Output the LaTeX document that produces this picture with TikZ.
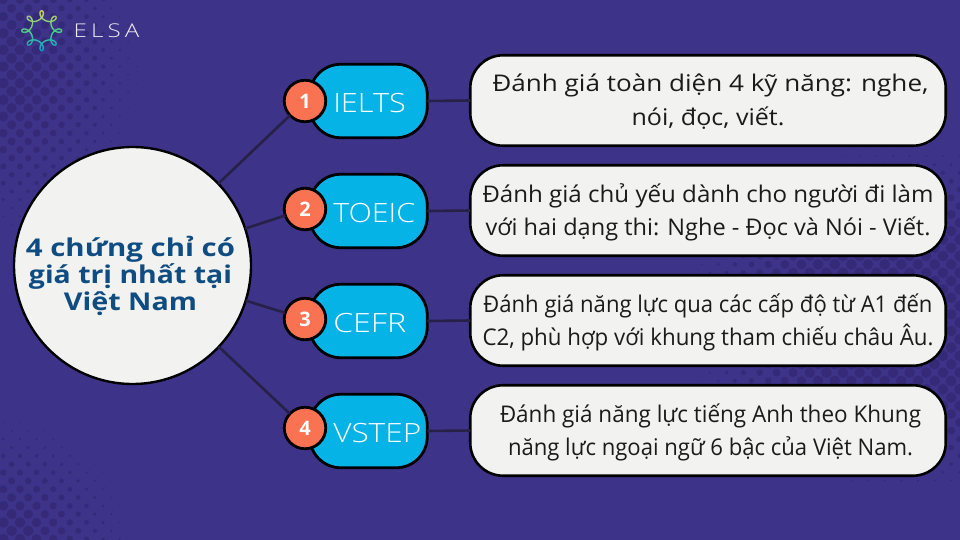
\documentclass[tikz,border=0pt]{standalone}
\usepackage{graphicx}
\usepackage{fontspec}
\setmainfont{Open Sans}
\newfontfamily\lightfont{Open Sans Light}
\definecolor{bgc}{HTML}{3D3389}
\definecolor{dotc}{HTML}{352A78}
\definecolor{paper}{HTML}{F2F2F0}
\definecolor{cyanc}{HTML}{05B3E6}
\definecolor{orangec}{HTML}{F97252}
\definecolor{titlec}{HTML}{0F4C81}
\definecolor{linkc}{HTML}{272148}
\definecolor{inkc}{HTML}{1B1B1B}
\definecolor{logoy}{HTML}{DDD860}
\definecolor{logog}{HTML}{4FD38A}
\definecolor{logob}{HTML}{0FA5CC}
\tikzset{
  bigdisc/.style={circle,draw=black,fill=paper,line width=2.4pt,minimum size=237pt,inner sep=0pt,outer sep=0pt,text=titlec},
  pillbox/.style={rectangle,rounded corners=31pt,draw=black,fill=cyanc,line width=2.8pt,minimum width=117.5pt,minimum height=73.5pt,inner sep=0pt,outer sep=0pt,text=white},
  badge/.style={circle,draw=black,fill=orangec,line width=2.8pt,minimum size=41.5pt,inner sep=0pt,outer sep=0pt,text=white},
  infobox/.style={rectangle,rounded corners=33pt,draw=black,fill=paper,line width=2.6pt,minimum width=475.5pt,minimum height=90.5pt,inner sep=0pt,outer sep=0pt,text=inkc},
  linkline/.style={draw=linkc,line width=2.6pt}
}
\newcommand{\halftone}[9]{%
  \foreach \ro in {0,...,#4}{\foreach \co in {0,...,#3}{%
    \pgfmathsetmacro\px{#1+16.64*\co+8.32*mod(\ro,2)}%
    \pgfmathsetmacro\py{#2+8.32*\ro}%
    \pgfmathsetmacro\rr{min(5.3,#9*(1-sqrt(pow((\px-#5)/#7,2)+pow((\py-#6)/#8,2))))}%
    \ifdim\rr pt>0.2pt \fill[dotc] (\px,\py) circle[radius=\rr]; \fi
  }}%
}
\newcommand{\fitline}[2]{\resizebox{#1pt}{\height}{#2}}
\newcommand{\pilltext}[2]{\makebox[117.5pt][l]{\hspace*{23.5pt}\lightfont\fontsize{26.5}{26.5}\selectfont\raisebox{-1.5pt}[\height][0pt]{\fitline{#1}{#2}}}}
\newcommand{\twolines}[6]{\raisebox{8.5pt}[0pt][0pt]{\fontsize{23}{33.4}\selectfont\begin{tabular}[t]{@{}c@{}}\hspace*{#1pt}\fitline{#2}{#3}\\\hspace*{#4pt}\fitline{#5}{#6}\end{tabular}}}
\begin{document}
\begin{tikzpicture}[x=1pt,y=-1pt]
\useasboundingbox (0,0) rectangle (960,540);
\fill[bgc] (0,0) rectangle (960,540);
\begin{scope}
\clip (0,0) rectangle (960,540);
\halftone{3.3}{0}{10}{32}{0}{70}{150}{175}{6.8}
\halftone{3.3}{406}{9}{17}{0}{545}{140}{135}{6.8}
\halftone{660}{139.6}{18}{44}{915}{318}{245}{180}{11}
\end{scope}
% logo
\foreach \i in {0,...,239}{
  \pgfmathsetmacro\ta{\i*1.5}
  \pgfmathsetmacro\tb{(\i+1.2)*1.5}
  \pgfmathsetmacro\xa{41.7+15.4*cos(\ta+90)+4.6*cos(-7*\ta+90)}
  \pgfmathsetmacro\ya{30.7-15.4*sin(\ta+90)-4.6*sin(-7*\ta+90)}
  \pgfmathsetmacro\xb{41.7+15.4*cos(\tb+90)+4.6*cos(-7*\tb+90)}
  \pgfmathsetmacro\yb{30.7-15.4*sin(\tb+90)-4.6*sin(-7*\tb+90)}
  \pgfmathsetmacro\mixa{max(0,min(100,(30.7-\ya)*5))}
  \pgfmathsetmacro\mixb{max(0,min(100,(\ya-30.7)*5))}
  \ifdim\ya pt<30.7pt
    \draw[color=logoy!\mixa!logog,line width=1.3pt] (\xa,\ya) -- (\xb,\yb);
  \else
    \draw[color=logob!\mixb!logog,line width=1.3pt] (\xa,\ya) -- (\xb,\yb);
  \fi
}
\node[inner sep=0pt,text=white!90!bgc] (elsa) at (106.5,30.8) {\lightfont\fontsize{19}{19}\selectfont\resizebox{65.5pt}{\height}{E\,L\,S\,A}};
% central disc
\node[bigdisc] (big) at (132.5,265.5) {\raisebox{9.5pt}[0pt][0pt]{\hspace*{-4pt}\bfseries\fontsize{24.5}{27}\selectfont\begin{tabular}[t]{@{}c@{}}\fitline{209}{4 chứng chỉ có}\\\fitline{203}{giá trị nhất tại}\\\fitline{133}{Việt Nam}\end{tabular}}};
% pills
\node[pillbox] (p1) at (368.5,101) {\pilltext{72.5}{IELTS}};
\node[pillbox] (p2) at (368.5,211) {\pilltext{82}{TOEIC}};
\node[pillbox] (p3) at (368.5,321) {\pilltext{73}{CEFR}};
\node[pillbox] (p4) at (368.5,431) {\pilltext{88}{VSTEP}};
% badges
\node[badge] (b1) at (305,101) {\bfseries\fontsize{20}{20}\selectfont 1};
\node[badge] (b2) at (305,209) {\bfseries\fontsize{20}{20}\selectfont 2};
\node[badge] (b3) at (305,319) {\bfseries\fontsize{20}{20}\selectfont 3};
\node[badge] (b4) at (305,428) {\bfseries\fontsize{20}{20}\selectfont 4};
% info boxes
\node[infobox] (t1) at (708,100.5) {\twolines{5}{436}{Đánh giá toàn diện 4 kỹ năng: nghe,}{0}{153}{nói, đọc, viết.}};
\node[infobox] (t2) at (708,210.5) {\twolines{0}{451}{Đánh giá chủ yếu dành cho người đi làm}{0}{445}{với hai dạng thi: Nghe - Đọc và Nói - Viết.}};
\node[infobox] (t3) at (708,320.5) {\twolines{0}{449}{Đánh giá năng lực qua các cấp độ từ A1 đến}{0}{451}{C2, phù hợp với khung tham chiếu châu Âu.}};
\node[infobox] (t4) at (708,430.5) {\twolines{5}{421}{Đánh giá năng lực tiếng Anh theo Khung}{5}{405}{năng lực ngoại ngữ 6 bậc của Việt Nam.}};
% connectors
\foreach \n in {1,2,3,4}{
  \draw[linkline] (big) -- (b\n);
  \draw[linkline] (p\n.east) -- (t\n.west);
}
\end{tikzpicture}
\end{document}
